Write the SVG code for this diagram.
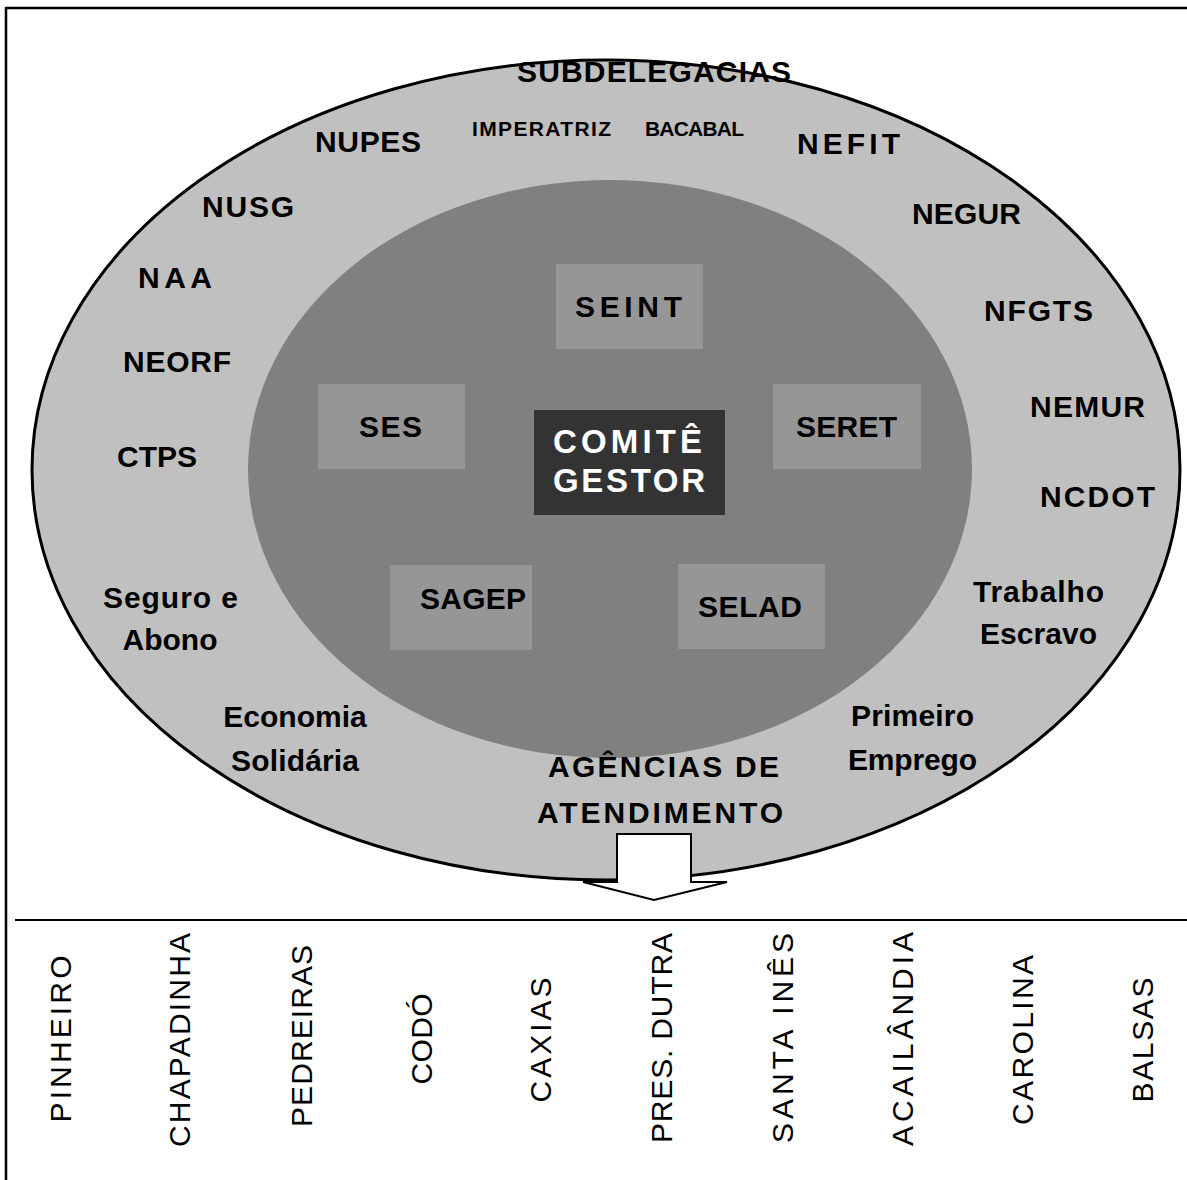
<svg xmlns="http://www.w3.org/2000/svg" width="1187" height="1180" viewBox="0 0 1187 1180">
<style>
.b{font-family:"Liberation Sans",Arial,sans-serif;font-weight:bold;font-size:30px;fill:#000}
.s{font-size:21px}
.w{fill:#fff;font-size:33px}
.m{text-anchor:middle}
.r{font-family:"Liberation Sans",Arial,sans-serif;font-size:30px;fill:#000;text-anchor:middle}
.box{fill:#969696}
</style>
<rect width="1187" height="1180" fill="#fff"/>
<g id="frame" stroke="#000" stroke-width="2.5" fill="none">
<line x1="6" y1="8" x2="1187" y2="8"/>
<line x1="6" y1="7" x2="6" y2="1180"/>
<line x1="15" y1="920" x2="1187" y2="920" stroke-width="2"/>
</g>
<g id="outer">
<ellipse cx="606" cy="470" rx="574" ry="410" fill="#c0c0c0" stroke="#000" stroke-width="3"/>
</g>
<g id="inner">
<ellipse cx="610" cy="469" rx="362" ry="289" fill="#808080"/>
</g>
<g id="connectors">
<polygon points="617,834 691,834 691,882 727,882 654,900 583,882 617,882" fill="#fff" stroke="#000" stroke-width="2"/>
</g>
<g id="n-seint"><rect class="box" x="556" y="264" width="147" height="85"/><text class="b" x="575" y="317" font-size="31" textLength="107" lengthAdjust="spacing">SEINT</text></g>
<g id="n-ses"><rect class="box" x="318" y="384" width="147" height="85"/><text class="b" x="359" y="437" textLength="63" lengthAdjust="spacing">SES</text></g>
<g id="n-seret"><rect class="box" x="773" y="384" width="148" height="85"/><text class="b" x="796" y="437" textLength="101" lengthAdjust="spacing">SERET</text></g>
<g id="n-sagep"><rect class="box" x="390" y="565" width="142" height="85"/><text class="b" x="420" y="609" textLength="106" lengthAdjust="spacing">SAGEP</text></g>
<g id="n-selad"><rect class="box" x="678" y="564" width="147" height="85"/><text class="b" x="698" y="617" textLength="104" lengthAdjust="spacing">SELAD</text></g>
<g id="n-comite"><rect x="534" y="410" width="191" height="105" fill="#333"/>
<text class="b w" x="553" y="453" textLength="149" lengthAdjust="spacing">COMITÊ</text>
<text class="b w" x="553" y="492" textLength="152" lengthAdjust="spacing">GESTOR</text></g>
<g id="ring-labels">
<text class="b" x="517" y="82" textLength="274" lengthAdjust="spacing">SUBDELEGACIAS</text>
<text class="b" x="315" y="152" font-size="31" textLength="106" lengthAdjust="spacing">NUPES</text>
<text class="b s" x="472" y="136" font-size="22" textLength="139" lengthAdjust="spacing">IMPERATRIZ</text>
<text class="b s" x="645" y="136" font-size="20" textLength="99" lengthAdjust="spacing">BACABAL</text>
<text class="b" x="797" y="154" textLength="103" lengthAdjust="spacing">NEFIT</text>
<text class="b" x="912" y="224" textLength="109" lengthAdjust="spacing">NEGUR</text>
<text class="b" x="984" y="321" textLength="109" lengthAdjust="spacing">NFGTS</text>
<text class="b" x="1030" y="417" textLength="115" lengthAdjust="spacing">NEMUR</text>
<text class="b" x="1040" y="507" textLength="115" lengthAdjust="spacing">NCDOT</text>
<text class="b" x="973" y="602" textLength="131" lengthAdjust="spacing">Trabalho</text>
<text class="b" x="980" y="644" textLength="117" lengthAdjust="spacing">Escravo</text>
<text class="b" x="851" y="726" textLength="123" lengthAdjust="spacing">Primeiro</text>
<text class="b" x="848" y="770" textLength="129" lengthAdjust="spacing">Emprego</text>
<text class="b" x="548" y="777" textLength="231" lengthAdjust="spacing">AGÊNCIAS DE</text>
<text class="b" x="537" y="823" textLength="246" lengthAdjust="spacing">ATENDIMENTO</text>
<text class="b m" x="295" y="727" font-size="28">Economia</text>
<text class="b" x="231" y="771" textLength="128" lengthAdjust="spacing">Solidária</text>
<text class="b" x="103" y="608" textLength="135" lengthAdjust="spacing">Seguro e</text>
<text class="b m" x="170" y="650" font-size="28">Abono</text>
<text class="b" x="117" y="467" textLength="80" lengthAdjust="spacing">CTPS</text>
<text class="b" x="123" y="372" textLength="108" lengthAdjust="spacing">NEORF</text>
<text class="b" x="138" y="288" font-size="31" textLength="74" lengthAdjust="spacing">NAA</text>
<text class="b" x="202" y="217" textLength="92" lengthAdjust="spacing">NUSG</text>
</g>
<g id="agencies">
<text class="r" transform="translate(71,1039) rotate(-90)" textLength="167" lengthAdjust="spacing">PINHEIRO</text>
<text class="r" transform="translate(190,1040) rotate(-90)" textLength="214" lengthAdjust="spacing">CHAPADINHA</text>
<text class="r" transform="translate(312,1036) rotate(-90)" textLength="182" lengthAdjust="spacing">PEDREIRAS</text>
<text class="r" transform="translate(432,1039) rotate(-90)" textLength="91" lengthAdjust="spacing">CODÓ</text>
<text class="r" transform="translate(551,1040) rotate(-90)" textLength="125" lengthAdjust="spacing">CAXIAS</text>
<text class="r" transform="translate(672,1038) rotate(-90)" textLength="210" lengthAdjust="spacing">PRES. DUTRA</text>
<text class="r" transform="translate(793,1038) rotate(-90)" textLength="210" lengthAdjust="spacing">SANTA INÊS</text>
<text class="r" transform="translate(913,1039) rotate(-90)" textLength="214" lengthAdjust="spacing">ACAILÂNDIA</text>
<text class="r" transform="translate(1033,1040) rotate(-90)" textLength="170" lengthAdjust="spacing">CAROLINA</text>
<text class="r" transform="translate(1153,1040) rotate(-90)" textLength="125" lengthAdjust="spacing">BALSAS</text>
</g>
</svg>
